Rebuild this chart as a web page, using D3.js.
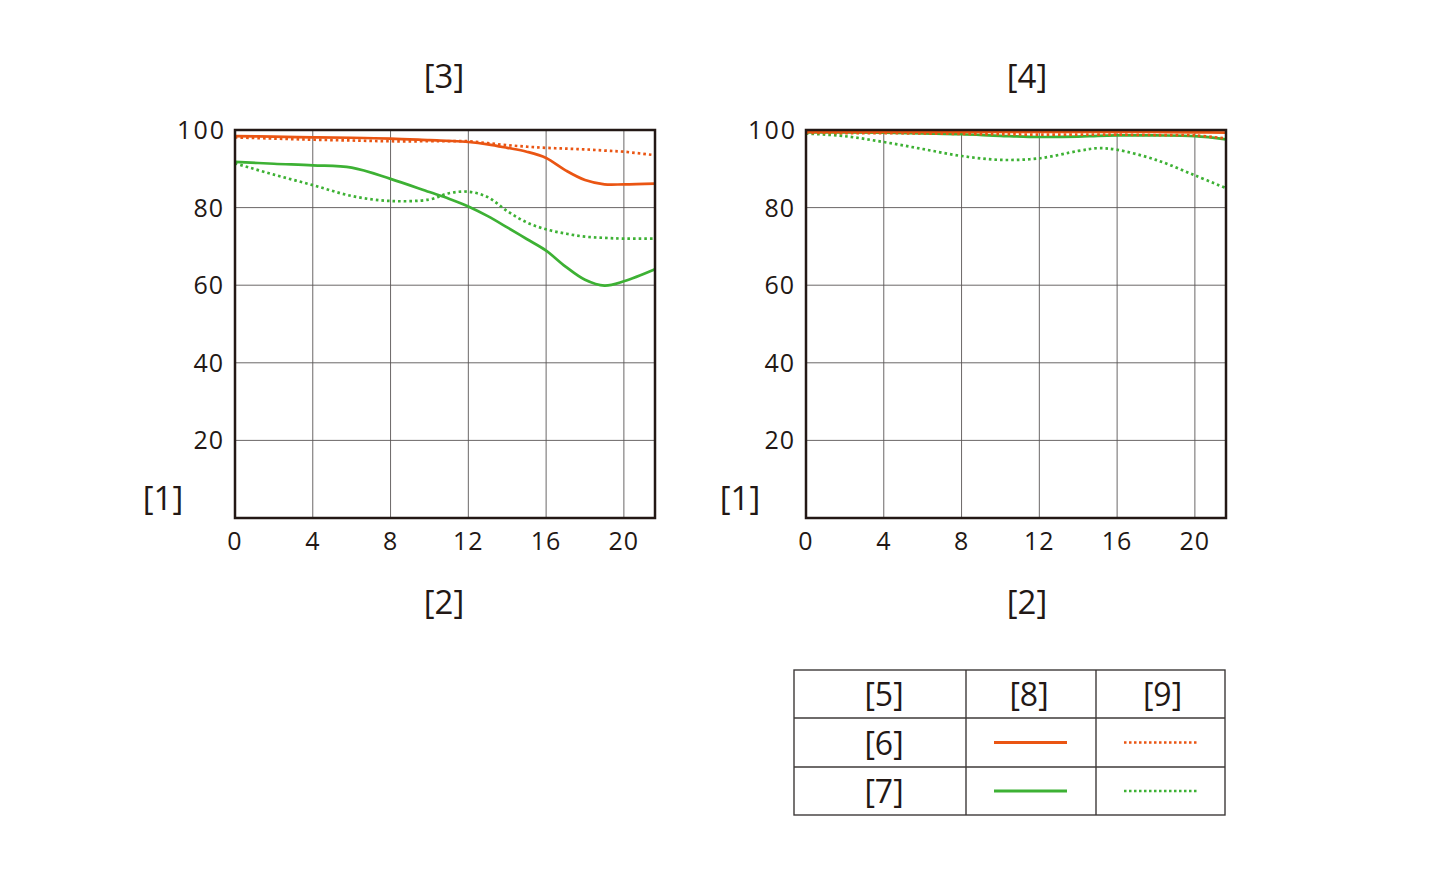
<!DOCTYPE html>
<html><head><meta charset="utf-8">
<script src="https://cdn.jsdelivr.net/npm/d3@7"></script>
<style>
html,body{margin:0;padding:0;background:#fff;}
text{font-family:"Open Sans","Noto Sans",sans-serif;fill:#231815;}
</style></head>
<body>
<svg id="chart" width="1440" height="875"></svg>
<script>
// ---- data ----
const xTicks = [0, 4, 8, 12, 16, 20];
const yTicks = [20, 40, 60, 80, 100];
const panelTitles = ["[3]", "[4]"];
const yAxisLabel = "[1]";
const xAxisLabel = "[2]";

// left panel
const leftX = [0, 2, 4, 6, 8, 10, 11, 12, 13, 14, 15, 16, 17, 18, 19, 20, 21.6];
const leftOrangeSolid  = [98.4, 98.3, 98.1, 98.0, 97.8, 97.4, 97.2, 96.9, 96.3, 95.4, 94.4, 92.8, 89.6, 87.1, 86.0, 86.0, 86.2];
const leftOrangeDotted = [98.1, 97.8, 97.5, 97.3, 97.1, 97.1, 97.1, 97.1, 96.6, 96.1, 95.7, 95.4, 95.2, 95.0, 94.7, 94.4, 93.5];
const leftGreenSolid   = [91.8, 91.3, 90.9, 90.3, 87.4, 84.0, 82.3, 80.3, 77.8, 74.9, 71.9, 68.9, 64.8, 61.4, 59.9, 61.0, 64.1];
const leftGreenDotted  = [91.4, 88.5, 85.8, 83.0, 81.7, 82.1, 83.7, 84.1, 82.7, 79.1, 76.2, 74.4, 73.3, 72.5, 72.2, 72.0, 72.0];

// right panel
const rightX = [0, 2, 4, 6, 8, 10, 12, 14, 15, 16, 18, 20, 21.6];
const rightOrangeSolid  = [99.5, 99.5, 99.5, 99.5, 99.5, 99.5, 99.5, 99.5, 99.5, 99.5, 99.5, 99.4, 99.3];
const rightOrangeDotted = [99.3, 99.2, 99.2, 99.1, 99.0, 98.9, 98.8, 98.8, 98.8, 98.8, 98.7, 98.6, 97.8];
const rightGreenSolid   = [99.4, 99.4, 99.3, 99.1, 98.9, 98.5, 98.2, 98.3, 98.5, 98.6, 98.6, 98.4, 97.6];
const rightGreenDotted  = [99.1, 98.4, 96.9, 95.1, 93.3, 92.3, 92.7, 94.6, 95.3, 94.9, 92.3, 88.3, 85.0];

// legend
const legendHeader = ["[5]", "[8]", "[9]"];
const legendRows = ["[6]", "[7]"];

// ---- styles ----
const ORANGE = "#ea5513";
const GREEN = "#3db134";
const svg = d3.select("#chart");

const panels = [
  {x0: 235, title: panelTitles[0], xs: leftX, series: [
    {v: leftOrangeSolid, c: ORANGE, dot: false},
    {v: leftOrangeDotted, c: ORANGE, dot: true},
    {v: leftGreenSolid, c: GREEN, dot: false},
    {v: leftGreenDotted, c: GREEN, dot: true}], ylabX: 163, titleOff: -1},
  {x0: 806, title: panelTitles[1], xs: rightX, series: [
    {v: rightGreenDotted, c: GREEN, dot: true},
    {v: rightGreenSolid, c: GREEN, dot: false},
    {v: rightOrangeDotted, c: ORANGE, dot: true},
    {v: rightOrangeSolid, c: ORANGE, dot: false}], ylabX: 740, titleOff: 11}
];

const W = 420, plotTop = 130, plotBottom = 518;

panels.forEach(p => {
  const x = d3.scaleLinear().domain([0, 21.6]).range([p.x0, p.x0 + W]);
  const y = d3.scaleLinear().domain([0, 100]).range([plotBottom, plotTop]);
  const g = svg.append("g");

  // grid
  g.selectAll(".vg").data(xTicks.filter(t => t > 0)).enter().append("line")
    .attr("x1", d => x(d)).attr("x2", d => x(d)).attr("y1", plotTop).attr("y2", plotBottom)
    .attr("stroke", "#5a5656").attr("stroke-width", 0.9);
  g.selectAll(".hg").data(yTicks.filter(t => t < 100)).enter().append("line")
    .attr("x1", p.x0).attr("x2", p.x0 + W).attr("y1", d => y(d)).attr("y2", d => y(d))
    .attr("stroke", "#5a5656").attr("stroke-width", 0.9);

  // series
  const line = d3.line().x((d, i) => x(p.xs[i])).y(d => y(d)).curve(d3.curveCatmullRom.alpha(0.5));
  p.series.forEach(s => {
    g.append("path").attr("d", line(s.v)).attr("fill", "none")
      .attr("stroke", s.c).attr("stroke-width", 2.7)
      .attr("stroke-dasharray", s.dot ? "2.6,3" : null);
  });

  // frame
  g.append("rect").attr("x", p.x0).attr("y", plotTop).attr("width", W).attr("height", plotBottom - plotTop)
    .attr("fill", "none").attr("stroke", "#231815").attr("stroke-width", 2.5);

  // tick labels
  g.selectAll(".yt").data(yTicks).enter().append("text")
    .attr("x", d => p.x0 - (d === 100 ? 9 : 11)).attr("y", d => y(d) + 9).attr("text-anchor", "end")
    .attr("font-size", 25).attr("letter-spacing", d => d === 100 ? 2 : 1).text(d => d);
  g.selectAll(".xt").data(xTicks).enter().append("text")
    .attr("x", d => x(d)).attr("y", 550).attr("text-anchor", "middle")
    .attr("font-size", 25).attr("letter-spacing", 1).text(d => d);

  // titles
  g.append("text").attr("x", p.x0 + W / 2 + p.titleOff).attr("y", 88).attr("text-anchor", "middle")
    .attr("font-size", 33).text(p.title);
  g.append("text").attr("x", p.x0 + W / 2 + p.titleOff).attr("y", 614).attr("text-anchor", "middle")
    .attr("font-size", 33).text(xAxisLabel);
  g.append("text").attr("x", p.ylabX).attr("y", 510).attr("text-anchor", "middle")
    .attr("font-size", 33).text(yAxisLabel);
});

// ---- legend table ----
const colX = [794, 966, 1096, 1225];
const rowY = [670, 718, 767, 815];
const lg = svg.append("g");
lg.append("rect").attr("x", colX[0]).attr("y", rowY[0]).attr("width", colX[3] - colX[0]).attr("height", rowY[3] - rowY[0])
  .attr("fill", "none").attr("stroke", "#3e3a39").attr("stroke-width", 1.4);
colX.slice(1, 3).forEach(cx => lg.append("line").attr("x1", cx).attr("x2", cx).attr("y1", rowY[0]).attr("y2", rowY[3])
  .attr("stroke", "#3e3a39").attr("stroke-width", 1.4));
rowY.slice(1, 3).forEach(ry => lg.append("line").attr("x1", colX[0]).attr("x2", colX[3]).attr("y1", ry).attr("y2", ry)
  .attr("stroke", "#3e3a39").attr("stroke-width", 1.4));
const headerOff = [4, -2, 2];
legendHeader.forEach((t, i) => lg.append("text").attr("x", (colX[i] + colX[i + 1]) / 2 + headerOff[i]).attr("y", 706)
  .attr("text-anchor", "middle").attr("font-size", 32).text(t));
const rowColors = [ORANGE, GREEN];
legendRows.forEach((t, r) => {
  const cy = (rowY[r + 1] + rowY[r + 2]) / 2;
  lg.append("text").attr("x", (colX[0] + colX[1]) / 2 + 4).attr("y", cy + 12)
    .attr("text-anchor", "middle").attr("font-size", 32).text(t);
  lg.append("line").attr("x1", 994).attr("x2", 1067).attr("y1", cy).attr("y2", cy)
    .attr("stroke", rowColors[r]).attr("stroke-width", 2.8);
  lg.append("line").attr("x1", 1124).attr("x2", 1197).attr("y1", cy).attr("y2", cy)
    .attr("stroke", rowColors[r]).attr("stroke-width", 2.6).attr("stroke-dasharray", "2.5,2.5");
});
</script>
</body></html>
